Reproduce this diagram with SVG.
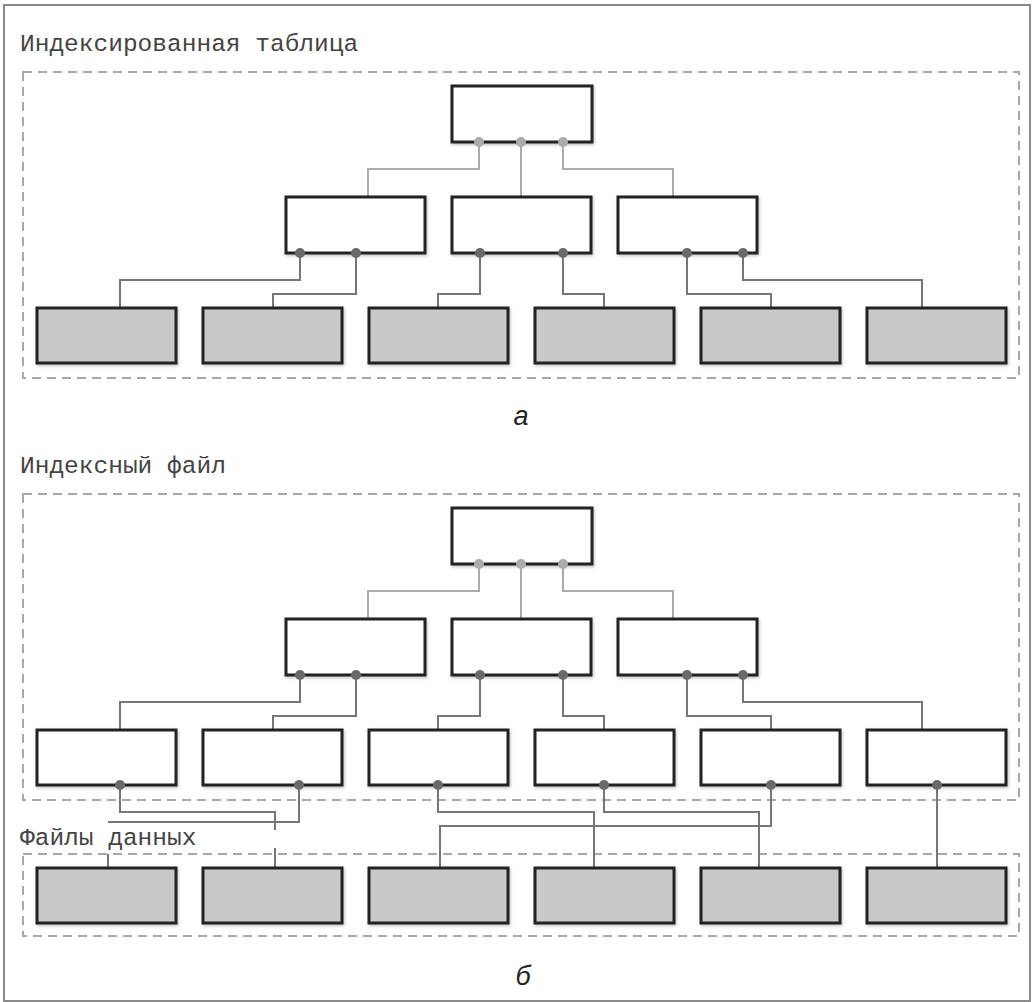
<svg xmlns="http://www.w3.org/2000/svg" width="1034" height="1002" viewBox="0 0 1034 1002">
  <style>
    .frame { fill: #ffffff; stroke: #8a8a8a; stroke-width: 2; }
    .zone { fill: none; stroke: #a8a8a8; stroke-width: 2; stroke-dasharray: 9 6; }
    .title { font-family: "Liberation Mono", "Courier New", monospace; font-size: 24.5px; fill: #444444; }
    .caption { font-family: "Liberation Sans", Arial, sans-serif; font-style: italic; font-size: 27px; fill: #222222; }
    .node rect { fill: #ffffff; stroke: #232323; stroke-width: 3; }
    .leaf rect { fill: #c9c9c9; stroke: #232323; stroke-width: 3; }
    .link-top { fill: none; stroke: #ababab; stroke-width: 2; }
    .link { fill: none; stroke: #767676; stroke-width: 2; }
    .dot-top { fill: #ababab; }
    .dot { fill: #6a6a6a; }
  </style>
  <defs>
    <filter id="shadow" x="-10%" y="-20%" width="120%" height="140%">
      <feDropShadow dx="1" dy="1.5" stdDeviation="1.5" flood-color="#000000" flood-opacity="0.25"/>
    </filter>
  </defs>

  <!-- outer frame -->
  <rect class="frame" x="4" y="5" width="1026" height="996"/>

  <!-- ===== part a: indexed table ===== -->
  <text class="title" x="20" y="51">Индексированная таблица</text>
  <rect class="zone" x="23" y="72" width="996" height="306"/>

  <g id="connectors-a">
    <path class="link-top" d="M479 142 V169 H368 V197 M521 142 V197 M563 142 V169 H673 V197"/>
    <path class="link" d="M300 253 V280 H120 V308 M356 253 V294 H273 V308 M480 253 V294 H438 V308 M563 253 V294 H604 V308 M687 253 V294 H771 V308 M743 253 V280 H922 V308"/>
  </g>

  <g id="a-root" class="node" filter="url(#shadow)"><rect x="452" y="86" width="140" height="56"/></g>
  <g id="a-inner-1" class="node" filter="url(#shadow)"><rect x="286" y="197" width="139" height="56"/></g>
  <g id="a-inner-2" class="node" filter="url(#shadow)"><rect x="452" y="197" width="139" height="56"/></g>
  <g id="a-inner-3" class="node" filter="url(#shadow)"><rect x="618" y="197" width="139" height="56"/></g>
  <g id="a-leaf-1" class="leaf" filter="url(#shadow)"><rect x="37" y="308" width="139" height="55"/></g>
  <g id="a-leaf-2" class="leaf" filter="url(#shadow)"><rect x="203" y="308" width="139" height="55"/></g>
  <g id="a-leaf-3" class="leaf" filter="url(#shadow)"><rect x="369" y="308" width="139" height="55"/></g>
  <g id="a-leaf-4" class="leaf" filter="url(#shadow)"><rect x="535" y="308" width="139" height="55"/></g>
  <g id="a-leaf-5" class="leaf" filter="url(#shadow)"><rect x="701" y="308" width="139" height="55"/></g>
  <g id="a-leaf-6" class="leaf" filter="url(#shadow)"><rect x="867" y="308" width="139" height="55"/></g>

  <g id="dots-a">
    <circle class="dot-top" cx="479" cy="142" r="5"/>
    <circle class="dot-top" cx="521" cy="142" r="5"/>
    <circle class="dot-top" cx="563" cy="142" r="5"/>
    <circle class="dot" cx="300" cy="253" r="5"/>
    <circle class="dot" cx="356" cy="253" r="5"/>
    <circle class="dot" cx="480" cy="253" r="5"/>
    <circle class="dot" cx="563" cy="253" r="5"/>
    <circle class="dot" cx="687" cy="253" r="5"/>
    <circle class="dot" cx="743" cy="253" r="5"/>
  </g>

  <text class="caption" x="521" y="425" text-anchor="middle">а</text>

  <!-- ===== part b: index file and data files ===== -->
  <text class="title" x="20" y="473">Индексный файл</text>
  <rect class="zone" x="23" y="494" width="996" height="306"/>

  <text class="title" x="20" y="845">Файлы данных</text>
  <rect class="zone" x="23" y="854" width="996" height="82"/>

  <g id="connectors-b">
    <path class="link-top" d="M479 564 V591 H368 V619 M521 564 V619 M563 564 V591 H673 V619"/>
    <path class="link" d="M300 675 V702 H120 V730 M356 675 V716 H273 V730 M480 675 V716 H438 V730 M563 675 V716 H604 V730 M687 675 V716 H771 V730 M743 675 V702 H922 V730"/>
    <path class="link" d="M120 785 V812 H275 V830 M275 848 V868 M299 785 V822 H108 M108 854 V868 M438 785 V812 H594 V868 M604 785 V812 H759 V868 M771 785 V826 H440 V868 M937 785 V868"/>
  </g>

  <g id="b-root" class="node" filter="url(#shadow)"><rect x="452" y="508" width="140" height="56"/></g>
  <g id="b-inner-1" class="node" filter="url(#shadow)"><rect x="286" y="619" width="139" height="56"/></g>
  <g id="b-inner-2" class="node" filter="url(#shadow)"><rect x="452" y="619" width="139" height="56"/></g>
  <g id="b-inner-3" class="node" filter="url(#shadow)"><rect x="618" y="619" width="139" height="56"/></g>
  <g id="b-leaf-1" class="node" filter="url(#shadow)"><rect x="37" y="730" width="139" height="55"/></g>
  <g id="b-leaf-2" class="node" filter="url(#shadow)"><rect x="203" y="730" width="139" height="55"/></g>
  <g id="b-leaf-3" class="node" filter="url(#shadow)"><rect x="369" y="730" width="139" height="55"/></g>
  <g id="b-leaf-4" class="node" filter="url(#shadow)"><rect x="535" y="730" width="139" height="55"/></g>
  <g id="b-leaf-5" class="node" filter="url(#shadow)"><rect x="701" y="730" width="139" height="55"/></g>
  <g id="b-leaf-6" class="node" filter="url(#shadow)"><rect x="867" y="730" width="139" height="55"/></g>
  <g id="b-data-1" class="leaf" filter="url(#shadow)"><rect x="37" y="868" width="139" height="55"/></g>
  <g id="b-data-2" class="leaf" filter="url(#shadow)"><rect x="203" y="868" width="139" height="55"/></g>
  <g id="b-data-3" class="leaf" filter="url(#shadow)"><rect x="369" y="868" width="139" height="55"/></g>
  <g id="b-data-4" class="leaf" filter="url(#shadow)"><rect x="535" y="868" width="139" height="55"/></g>
  <g id="b-data-5" class="leaf" filter="url(#shadow)"><rect x="701" y="868" width="139" height="55"/></g>
  <g id="b-data-6" class="leaf" filter="url(#shadow)"><rect x="867" y="868" width="139" height="55"/></g>

  <g id="dots-b">
    <circle class="dot-top" cx="479" cy="564" r="5"/>
    <circle class="dot-top" cx="521" cy="564" r="5"/>
    <circle class="dot-top" cx="563" cy="564" r="5"/>
    <circle class="dot" cx="300" cy="675" r="5"/>
    <circle class="dot" cx="356" cy="675" r="5"/>
    <circle class="dot" cx="480" cy="675" r="5"/>
    <circle class="dot" cx="563" cy="675" r="5"/>
    <circle class="dot" cx="687" cy="675" r="5"/>
    <circle class="dot" cx="743" cy="675" r="5"/>
    <circle class="dot" cx="120" cy="785" r="5"/>
    <circle class="dot" cx="299" cy="785" r="5"/>
    <circle class="dot" cx="438" cy="785" r="5"/>
    <circle class="dot" cx="604" cy="785" r="5"/>
    <circle class="dot" cx="771" cy="785" r="5"/>
    <circle class="dot" cx="937" cy="785" r="5"/>
  </g>

  <text class="caption" x="523" y="985" text-anchor="middle">б</text>
</svg>
